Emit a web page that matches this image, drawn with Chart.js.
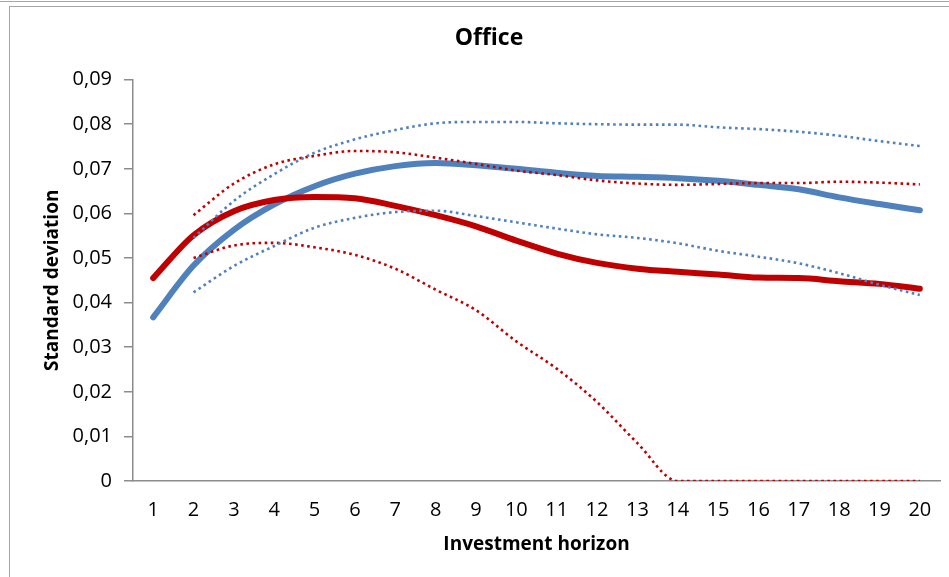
<!DOCTYPE html>
<html>
<head>
<meta charset="utf-8">
<script src="https://cdn.jsdelivr.net/npm/chart.js@4.4.1/dist/chart.umd.min.js"></script>
<style>
  html, body { margin: 0; padding: 0; background: #ffffff; }
  #wrap { position: relative; width: 949px; height: 577px; overflow: hidden; background: #ffffff; }
  #chart { position: absolute; left: 0; top: 0; }
  .frame { position: absolute; background: #a6a6a6; }
</style>
</head>
<body>
<div id="wrap">
  <div class="frame" style="left:0; top:1px; width:949px; height:1px;"></div>
  <div class="frame" style="left:9px; top:6px; width:940px; height:1px;"></div>
  <div class="frame" style="left:9px; top:6px; width:1px; height:571px;"></div>
  <canvas id="chart" width="949" height="577"></canvas>
</div>
<script>
// Investment horizons (years)
const horizons = ['1','2','3','4','5','6','7','8','9','10','11','12','13','14','15','16','17','18','19','20'];

// Standard deviation estimates per horizon
const blueMean  = [0.0367,0.0483,0.0563,0.0620,0.0661,0.0689,0.0706,0.0713,0.0708,0.0700,0.0691,0.0684,0.0682,0.0679,0.0673,0.0664,0.0654,0.0636,0.0621,0.0607];
const redMean   = [0.0455,0.0551,0.0605,0.0630,0.0637,0.0634,0.0617,0.0596,0.0571,0.0539,0.0510,0.0489,0.0476,0.0469,0.0463,0.0456,0.0455,0.0448,0.0442,0.0431];

// Confidence bands (no value at horizon 1)
const blueUpper = [null,0.0545,0.0628,0.0688,0.0736,0.0766,0.0787,0.0802,0.0805,0.0805,0.0802,0.0800,0.0799,0.0799,0.0793,0.0789,0.0783,0.0774,0.0762,0.0751];
const blueLower = [null,0.0423,0.0482,0.0527,0.0568,0.0590,0.0603,0.0606,0.0594,0.0580,0.0566,0.0553,0.0545,0.0533,0.0516,0.0503,0.0488,0.0466,0.0440,0.0417];
const redUpper  = [null,0.0596,0.0667,0.0710,0.0729,0.0740,0.0737,0.0725,0.0711,0.0696,0.0686,0.0674,0.0667,0.0664,0.0666,0.0668,0.0668,0.0671,0.0669,0.0665];
const redLower  = [null,0.0500,0.0528,0.0534,0.0524,0.0507,0.0476,0.0429,0.0383,0.0313,0.0252,0.0177,0.0085,0,0,0,0,0,0,0];

// Y-axis tick values
const yTicks = [0,0.01,0.02,0.03,0.04,0.05,0.06,0.07,0.08,0.09];

const BLUE = '#4F81BD';
const RED = '#C00000';
const AXIS = '#8C8C8C';
const FONT = '"Open Sans", "Liberation Sans", sans-serif';

function solid(label, data, color, order) {
  return { label, data, borderColor: color, backgroundColor: color, borderWidth: 6,
           pointRadius: 0, borderCapStyle: 'round', borderJoinStyle: 'round',
           cubicInterpolationMode: 'monotone', order, spanGaps: false };
}
function dotted(label, data, color, order) {
  return { label, data, borderColor: color, backgroundColor: color, borderWidth: 2.6,
           pointRadius: 0, borderDash: [2.6, 3.5], borderCapStyle: 'butt',
           cubicInterpolationMode: 'monotone', order, spanGaps: false };
}

new Chart(document.getElementById('chart'), {
  type: 'line',
  data: {
    labels: horizons,
    datasets: [
      dotted('Upper band (blue)', blueUpper, BLUE, 1),
      dotted('Lower band (blue)', blueLower, BLUE, 2),
      dotted('Upper band (red)', redUpper, RED, 3),
      dotted('Lower band (red)', redLower, RED, 4),
      solid('Red', redMean, RED, 5),
      solid('Blue', blueMean, BLUE, 6)
    ]
  },
  options: {
    responsive: false,
    animation: false,
    devicePixelRatio: 1,
    layout: { padding: { left: 38, right: 9, top: 15, bottom: 20 } },
    plugins: {
      legend: { display: false },
      tooltip: { enabled: false },
      title: {
        display: true, text: 'Office', color: '#000000',
        font: { family: FONT, size: 23, weight: 'bold' },
        padding: { top: 10, bottom: 27 }
      }
    },
    scales: {
      x: {
        type: 'category',
        offset: true,
        grid: { display: false, drawTicks: false },
        border: { display: true, color: AXIS, width: 1.5 },
        ticks: { color: '#000000', font: { family: FONT, size: 20 }, padding: 17, maxRotation: 0, autoSkip: false },
        title: { display: true, text: 'Investment horizon', color: '#000000',
                 font: { family: FONT, size: 19, weight: 'bold' }, padding: { top: 0, bottom: 1 } },
        afterFit: (s) => { s.height = 76; }
      },
      y: {
        min: 0, max: 0.09,
        afterBuildTicks: (s) => { s.ticks = yTicks.map(v => ({ value: v })); },
        grid: { display: true, drawOnChartArea: false, drawTicks: true, tickLength: 9, color: AXIS, lineWidth: 1.5 },
        border: { display: true, color: AXIS, width: 1.5 },
        ticks: {
          color: '#000000', font: { family: FONT, size: 20 }, padding: 12,
          callback: (v) => v === 0 ? '0' : Number(v).toFixed(2).replace('.', ',')
        },
        title: { display: true, text: 'Standard deviation', color: '#000000',
                 font: { family: FONT, size: 19, weight: 'bold' }, padding: { top: 3, bottom: 0 } },
        afterFit: (s) => { s.width = 95; }
      }
    }
  }
});
</script>
</body>
</html>
